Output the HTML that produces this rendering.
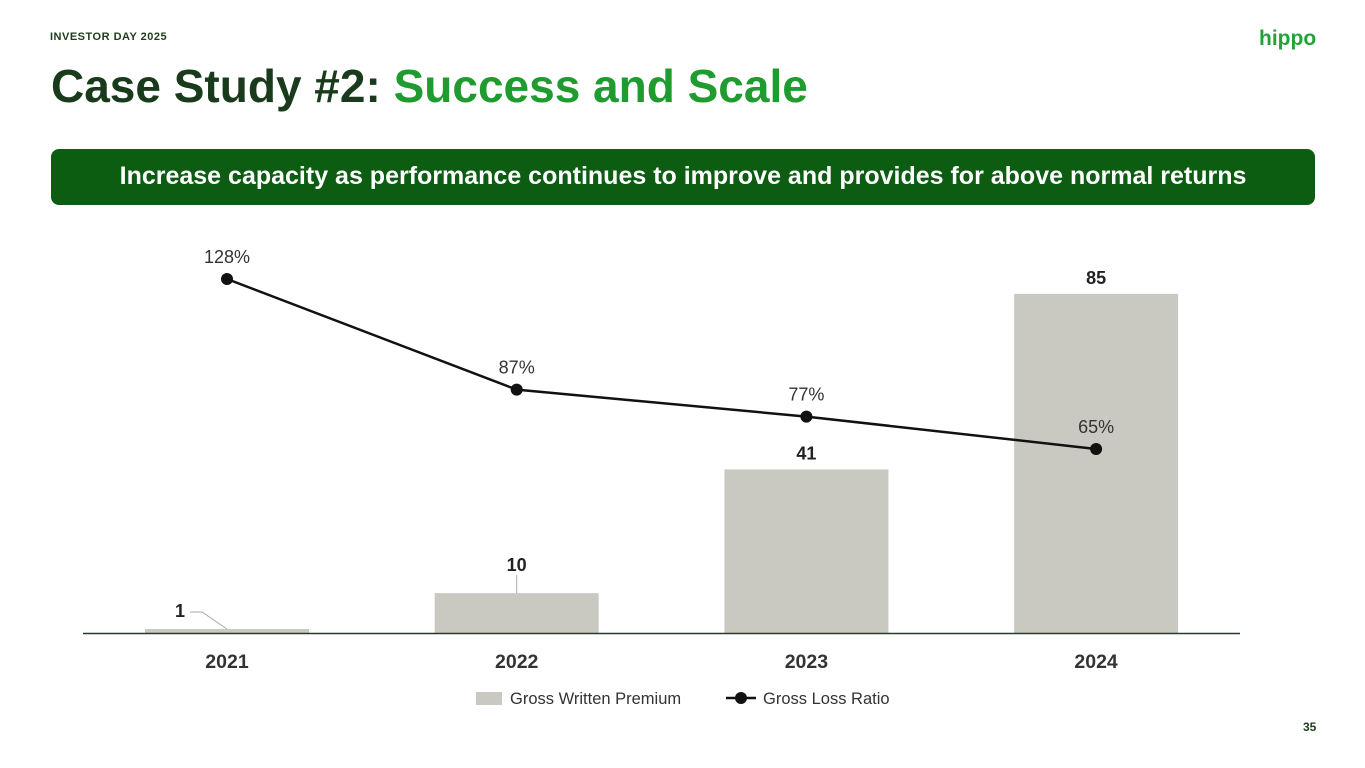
<!DOCTYPE html>
<html><head><meta charset="utf-8"><style>
body{margin:0;width:1365px;height:768px;background:#fff;font-family:"Liberation Sans",sans-serif;position:relative;overflow:hidden}
.abs{position:absolute}
</style></head><body>
<div class="abs" style="left:50px;top:31px;font-size:11px;font-weight:bold;letter-spacing:0.5px;color:#1b3d1b">INVESTOR DAY 2025</div>
<div class="abs" style="left:1259px;top:27px;font-size:21px;font-weight:bold;color:#22a33a">hippo</div>
<div class="abs" style="left:51px;top:59px;font-size:46px;font-weight:bold;color:#1a3a1c;white-space:nowrap">Case Study #2: <span style="color:#1f9b2f">Success and Scale</span></div>
<div class="abs" style="left:51px;top:149px;width:1264px;height:56px;background:#0c5c12;border-radius:8px;color:#fff;font-size:25px;font-weight:bold;text-align:center;line-height:54px;white-space:nowrap">Increase capacity as performance continues to improve and provides for above normal returns</div>
<div class="abs" style="left:1303px;top:720px;font-size:12px;font-weight:bold;color:#1b3d1b">35</div>
<svg id="chart" class="abs" style="left:0;top:0" width="1365" height="768"></svg>
<script>
const categories=["2021","2022","2023","2024"];
const premium=[1,10,41,85];
const lossRatio=[128,87,77,65];
const svg=document.getElementById('chart');
const NS='http://www.w3.org/2000/svg';
const base=633, pxPerUnit=3.99;
function x(i){return 227+i*289.7;}
function yBar(v){return base-v*pxPerUnit;}
function yLine(v){return 279+(128-v)*2.698;}
function mk(t,a,txt){const e=document.createElementNS(NS,t);for(const k in a)e.setAttribute(k,a[k]);if(txt!==undefined)e.textContent=txt;svg.appendChild(e);return e;}
premium.forEach((v,i)=>{
 const r=mk('rect',{x:x(i)-82,y:yBar(v),width:164,height:base-yBar(v),fill:'#cac9c1'});
 
 
 let lx=x(i),ly=yBar(v)-10;
 if(v<5){lx=x(i)-47;ly=yBar(v)-12;mk('polyline',{points:(lx+10)+','+(ly-5)+' '+(lx+22)+','+(ly-5)+' '+x(i)+','+yBar(v),fill:'none',stroke:'#aaa','stroke-width':1});}
 else if(v<20){ly=yBar(v)-22;mk('line',{x1:x(i),y1:yBar(v)-18,x2:x(i),y2:yBar(v),stroke:'#aaa','stroke-width':1});}
 const t=mk('text',{x:lx,y:ly,'text-anchor':'middle','font-size':18,'font-weight':'bold',fill:'#222'},String(v));
 
 
 const c=mk('text',{x:x(i),y:668,'text-anchor':'middle','font-size':19.5,'font-weight':'bold',fill:'#333'},categories[i]);
 
 
});
const ax=mk('line',{x1:83,y1:base+0.5,x2:1240,y2:base+0.5,stroke:'#2a3a2a','stroke-width':1.5});


const pl=mk('polyline',{points:lossRatio.map((v,i)=>x(i)+','+yLine(v)).join(' '),fill:'none',stroke:'#111','stroke-width':2.5});


lossRatio.forEach((v,i)=>{
 const c=mk('circle',{cx:x(i),cy:yLine(v),r:6,fill:'#111'});
 
 
 const t=mk('text',{x:x(i),y:yLine(v)-16,'text-anchor':'middle','font-size':18,fill:'#333'},v+'%');
 
 
});
const l1=mk('rect',{x:476,y:692,width:26,height:13,fill:'#cac9c1'});


const l1t=mk('text',{x:510,y:704,'font-size':16.5,fill:'#333'},'Gross Written Premium');


const l2=mk('line',{x1:726,y1:698,x2:756,y2:698,stroke:'#111','stroke-width':2.5});


mk('circle',{cx:741,cy:698,r:6,fill:'#111'});
const l2t=mk('text',{x:763,y:704,'font-size':16.5,fill:'#333'},'Gross Loss Ratio');


</script>
</body></html>
